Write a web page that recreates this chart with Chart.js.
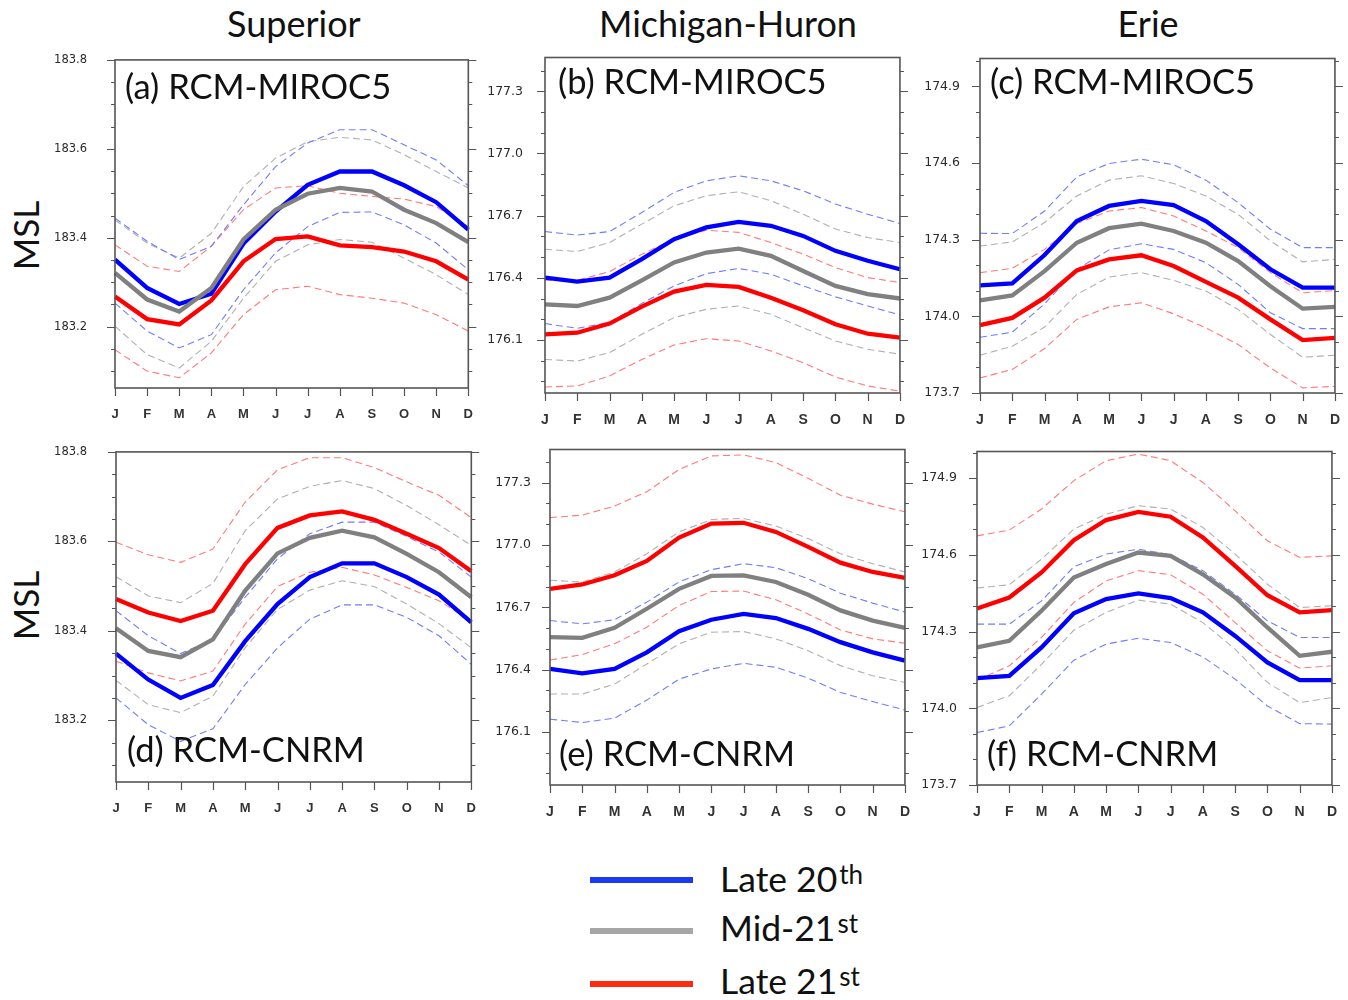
<!DOCTYPE html>
<html><head><meta charset="utf-8">
<script src="https://cdn.jsdelivr.net/npm/chart.js@4.4.0/dist/chart.umd.min.js"></script>
<style>
html,body{margin:0;padding:0;background:#fff;}
body{width:1348px;height:1000px;position:relative;overflow:hidden;font-family:Lato,"Open Sans",sans-serif;}
.cv{position:absolute;}
.txt{position:absolute;white-space:nowrap;color:#111;line-height:1;}
.ttl{font-size:36px;}
.plab{font-size:34.5px;}
.msl{font-size:35px;transform:rotate(-90deg);transform-origin:center center;}
.leg{font-size:35.5px;}
.leg sup{font-size:26px;vertical-align:top;position:relative;top:0px;margin-left:2px;}
.lline{position:absolute;height:6px;width:103px;left:590px;}
</style></head><body>

<div class="txt ttl" id="t1">Superior</div>
<div class="txt ttl" id="t2">Michigan-Huron</div>
<div class="txt ttl" id="t3">Erie</div>
<div class="txt msl" id="m1">MSL</div>
<div class="txt msl" id="m2">MSL</div>

<canvas class="cv" id="ca"></canvas>
<canvas class="cv" id="cb"></canvas>
<canvas class="cv" id="cc"></canvas>
<canvas class="cv" id="cd"></canvas>
<canvas class="cv" id="ce"></canvas>
<canvas class="cv" id="cf"></canvas>

<div class="txt plab" style="left:125px;top:69px;">(a) RCM-MIROC5</div>
<div class="txt plab" style="left:558px;top:64px;">(b) RCM-MIROC5</div>
<div class="txt plab" style="left:990px;top:64px;">(c) RCM-MIROC5</div>
<div class="txt plab" style="left:127px;top:732px;">(d) RCM-CNRM</div>
<div class="txt plab" style="left:559px;top:736px;">(e) RCM-CNRM</div>
<div class="txt plab" style="left:987px;top:736px;">(f) RCM-CNRM</div>

<div class="lline" style="top:877px;background:#1a3cf0;"></div>
<div class="lline" style="top:928px;background:#a6a6a6;"></div>
<div class="lline" style="top:981px;background:#ff2a10;"></div>
<div class="txt leg" style="left:720px;top:861px;">Late 20<sup>th</sup></div>
<div class="txt leg" style="left:720px;top:910px;">Mid-21<sup>st</sup></div>
<div class="txt leg" style="left:720px;top:963px;">Late 21<sup>st</sup></div>

<script>
// ---------- categories & ticks ----------
const months = ['J','F','M','A','M','J','J','A','S','O','N','D'];
const supTicks  = [183.2, 183.4, 183.6, 183.8];
const mhTicks   = [176.1, 176.4, 176.7, 177.0, 177.3];
const erieTicks = [173.7, 174.0, 174.3, 174.6, 174.9];

// ---------- (a) Superior, RCM-MIROC5 ----------
const a_l20    = [183.351,183.287,183.251,183.274,183.387,183.459,183.519,183.549,183.549,183.518,183.480,183.418];
const a_l20_hi = [183.444,183.392,183.351,183.381,183.474,183.560,183.613,183.643,183.643,183.609,183.575,183.517];
const a_l20_lo = [183.253,183.190,183.152,183.182,183.283,183.366,183.425,183.457,183.458,183.429,183.388,183.328];
const a_m21    = [183.321,183.261,183.234,183.287,183.396,183.463,183.499,183.512,183.504,183.463,183.433,183.390];
const a_m21_hi = [183.440,183.388,183.354,183.410,183.515,183.579,183.616,183.626,183.620,183.587,183.549,183.512];
const a_m21_lo = [183.201,183.137,183.107,183.167,183.264,183.347,183.384,183.396,183.390,183.354,183.317,183.272];
const a_l21    = [183.268,183.217,183.205,183.259,183.347,183.397,183.403,183.383,183.379,183.369,183.347,183.306];
const a_l21_hi = [183.384,183.336,183.324,183.381,183.463,183.512,183.517,183.500,183.493,183.487,183.470,183.425];
const a_l21_lo = [183.148,183.100,183.085,183.141,183.227,183.283,183.291,183.272,183.264,183.253,183.227,183.190];

// ---------- (b) Michigan-Huron, RCM-MIROC5 ----------
const b_l20    = [176.401,176.382,176.401,176.490,176.586,176.643,176.670,176.651,176.602,176.530,176.482,176.441];
const b_l20_hi = [176.623,176.606,176.623,176.715,176.812,176.868,176.892,176.868,176.820,176.756,176.707,176.662];
const b_l20_lo = [176.179,176.156,176.184,176.276,176.361,176.420,176.445,176.417,176.361,176.308,176.264,176.221];
const b_m21    = [176.272,176.264,176.304,176.388,176.474,176.522,176.541,176.506,176.433,176.361,176.321,176.300];
const b_m21_hi = [176.538,176.527,176.570,176.659,176.747,176.796,176.815,176.772,176.707,176.635,176.594,176.570];
const b_m21_lo = [176.006,175.998,176.039,176.127,176.208,176.248,176.264,176.224,176.159,176.095,176.055,176.031];
const b_l21    = [176.127,176.135,176.179,176.261,176.333,176.366,176.356,176.304,176.243,176.176,176.130,176.111];
const b_l21_hi = [176.388,176.388,176.430,176.514,176.586,176.630,176.619,176.570,176.514,176.449,176.401,176.377];
const b_l21_lo = [175.873,175.878,175.926,176.006,176.076,176.106,176.095,176.047,175.990,175.921,175.878,175.853];

// ---------- (c) Erie, RCM-MIROC5 ----------
const c_l20    = [174.121,174.129,174.240,174.373,174.432,174.452,174.435,174.373,174.282,174.184,174.112,174.112];
const c_l20_hi = [174.325,174.324,174.412,174.546,174.598,174.615,174.593,174.533,174.445,174.341,174.269,174.269];
const c_l20_lo = [173.918,173.938,174.049,174.184,174.260,174.284,174.262,174.210,174.125,174.014,173.952,173.952];
const c_m21    = [174.062,174.082,174.177,174.288,174.345,174.363,174.334,174.288,174.216,174.118,174.030,174.037];
const c_m21_hi = [174.275,174.291,174.367,174.471,174.533,174.550,174.520,174.471,174.399,174.295,174.213,174.223];
const c_m21_lo = [173.848,173.883,173.958,174.086,174.154,174.171,174.141,174.099,174.027,173.929,173.840,173.848];
const c_l21    = [173.966,173.994,174.073,174.180,174.223,174.239,174.197,174.135,174.073,173.988,173.907,173.916];
const c_l21_hi = [174.171,174.188,174.262,174.363,174.412,174.426,174.393,174.334,174.269,174.171,174.092,174.101];
const c_l21_lo = [173.759,173.792,173.874,173.988,174.037,174.053,174.010,173.955,173.890,173.798,173.720,173.726];

// ---------- (d) Superior, RCM-CNRM ----------
const d_l20    = [183.349,183.291,183.250,183.279,183.377,183.460,183.520,183.551,183.551,183.520,183.481,183.419];
const d_l20_hi = [183.445,183.389,183.349,183.381,183.475,183.561,183.617,183.643,183.643,183.611,183.576,183.520];
const d_l20_lo = [183.250,183.190,183.153,183.181,183.280,183.362,183.426,183.458,183.458,183.430,183.389,183.325];
const d_m21    = [183.406,183.355,183.341,183.381,183.490,183.573,183.608,183.624,183.609,183.572,183.531,183.475];
const d_m21_hi = [183.521,183.478,183.463,183.506,183.624,183.695,183.723,183.736,183.718,183.680,183.637,183.591];
const d_m21_lo = [183.289,183.235,183.217,183.254,183.362,183.448,183.491,183.512,183.499,183.460,183.416,183.362];
const d_l21    = [183.471,183.441,183.422,183.445,183.549,183.630,183.658,183.667,183.648,183.617,183.585,183.533];
const d_l21_hi = [183.598,183.570,183.553,183.583,183.688,183.760,183.787,183.787,183.765,183.733,183.703,183.653];
const d_l21_lo = [183.332,183.306,183.288,183.310,183.415,183.499,183.531,183.542,183.525,183.497,183.467,183.422];

// ---------- (e) Michigan-Huron, RCM-CNRM ----------
const e_l20    = [176.403,176.382,176.403,176.483,176.585,176.640,176.668,176.648,176.596,176.532,176.483,176.443];
const e_l20_hi = [176.636,176.620,176.640,176.725,176.822,176.881,176.910,176.891,176.838,176.768,176.720,176.677];
const e_l20_lo = [176.161,176.145,176.166,176.253,176.354,176.403,176.430,176.411,176.359,176.290,176.246,176.205];
const e_m21    = [176.556,176.553,176.601,176.693,176.789,176.851,176.854,176.822,176.760,176.685,176.636,176.601];
const e_m21_hi = [176.830,176.822,176.870,176.958,177.063,177.123,177.128,177.091,177.031,176.958,176.910,176.870];
const e_m21_lo = [176.282,176.282,176.330,176.427,176.524,176.580,176.583,176.548,176.491,176.419,176.370,176.338];
const e_l21    = [176.789,176.810,176.854,176.923,177.036,177.103,177.107,177.063,176.991,176.915,176.870,176.842];
const e_l21_hi = [177.132,177.144,177.187,177.257,177.364,177.429,177.434,177.397,177.321,177.240,177.197,177.160];
const e_l21_lo = [176.446,176.472,176.524,176.604,176.709,176.776,176.778,176.736,176.668,176.591,176.548,176.527];

// ---------- (f) Erie, RCM-CNRM ----------
const f_l20    = [174.118,174.127,174.238,174.371,174.427,174.449,174.431,174.375,174.283,174.179,174.110,174.110];
const f_l20_hi = [174.329,174.329,174.420,174.553,174.603,174.622,174.600,174.538,174.446,174.342,174.277,174.277];
const f_l20_lo = [173.905,173.931,174.055,174.188,174.251,174.274,174.257,174.201,174.114,174.009,173.940,173.938];
const f_m21    = [174.238,174.264,174.381,174.511,174.564,174.609,174.596,174.524,174.433,174.316,174.205,174.221];
const f_m21_hi = [174.470,174.483,174.583,174.700,174.759,174.792,174.779,174.707,174.603,174.485,174.394,174.401];
const f_m21_lo = [174.003,174.049,174.172,174.305,174.375,174.423,174.407,174.335,174.231,174.101,174.022,174.042];
const f_l21    = [174.390,174.433,174.531,174.657,174.736,174.768,174.749,174.668,174.557,174.442,174.375,174.384];
const f_l21_hi = [174.674,174.697,174.779,174.890,174.968,174.994,174.968,174.883,174.772,174.655,174.590,174.596];
const f_l21_lo = [174.110,174.166,174.277,174.414,174.498,174.538,174.522,174.446,174.335,174.225,174.157,174.166];

// ---------- layout ----------
const AXW = 80, PADT = 12, PADR = 20, XAH = 40;
const panels = [
  {cv:'ca', box:[115,60,468,388], min:183.062, max:183.8,   major:supTicks,  minor:0.05, lab:28, fs:11.5, xf:13, xp:19,
   s:[a_l20,a_l20_hi,a_l20_lo,a_m21,a_m21_hi,a_m21_lo,a_l21,a_l21_hi,a_l21_lo]},
  {cv:'cb', box:[545,57,900,392], min:175.844, max:177.463, major:mhTicks,   minor:0.1,  lab:22, fs:12.5, xf:14, xp:19,
   s:[b_l20,b_l20_hi,b_l20_lo,b_m21,b_m21_hi,b_m21_lo,b_l21,b_l21_hi,b_l21_lo]},
  {cv:'cc', box:[980,58,1335,392], min:173.7, max:175.009,  major:erieTicks, minor:0.1,  lab:20, fs:12.5, xf:14, xp:19,
   s:[c_l20,c_l20_hi,c_l20_lo,c_m21,c_m21_hi,c_m21_lo,c_l21,c_l21_hi,c_l21_lo]},
  {cv:'cd', box:[116,452,471,782], min:183.062, max:183.8,  major:supTicks,  minor:0.05, lab:29, fs:11.5, xf:13, xp:19,
   s:[d_l20,d_l20_hi,d_l20_lo,d_m21,d_m21_hi,d_m21_lo,d_l21,d_l21_hi,d_l21_lo]},
  {cv:'ce', box:[550,449,905,784], min:175.844, max:177.46, major:mhTicks,   minor:0.1,  lab:19, fs:12.5, xf:14, xp:19,
   s:[e_l20,e_l20_hi,e_l20_lo,e_m21,e_m21_hi,e_m21_lo,e_l21,e_l21_hi,e_l21_lo]},
  {cv:'cf', box:[977,451,1332,784], min:173.7, max:175.004, major:erieTicks, minor:0.1,  lab:20, fs:12.5, xf:14, xp:19,
   s:[f_l20,f_l20_hi,f_l20_lo,f_m21,f_m21_hi,f_m21_lo,f_l21,f_l21_hi,f_l21_lo]}
];

const solidCol = ['#0000ff','#808080','#ff0000'];
const dashCol  = ['#6f7cff','#b0b0b0','#ff7a7a'];
const labels = ['Late 20th','Late 20th upper','Late 20th lower','Mid-21st','Mid-21st upper','Mid-21st lower','Late 21st','Late 21st upper','Late 21st lower'];

function framePlugin(p){
  const minors = [];
  const n0 = Math.ceil(p.min / p.minor - 1e-6), n1 = Math.floor(p.max / p.minor + 1e-6);
  for (let k = n0; k <= n1; k++) {
    const v = +(k * p.minor).toFixed(3);
    if (!p.major.some(m => Math.abs(m - v) < 1e-6)) minors.push(v);
  }
  return {
    id:'frame',
    afterDatasetsDraw(chart){
      const {ctx, chartArea:{left,right,top,bottom}} = chart;
      const ys = chart.scales.y, xs = chart.scales.x;
      ctx.save();
      ctx.strokeStyle = '#555';
      ctx.lineWidth = 1.2;
      ctx.beginPath();
      for (const v of p.major) {
        const py = Math.round(ys.getPixelForValue(v)) + 0.5;
        ctx.moveTo(left-8, py); ctx.lineTo(left, py);
        ctx.moveTo(right, py); ctx.lineTo(right+8, py);
      }
      for (const v of minors) {
        const py = Math.round(ys.getPixelForValue(v)) + 0.5;
        ctx.moveTo(left-4, py); ctx.lineTo(left, py);
        ctx.moveTo(right, py); ctx.lineTo(right+4, py);
      }
      for (let i = 0; i < months.length; i++) {
        const px = Math.round(xs.getPixelForValue(i)) + 0.5;
        ctx.moveTo(px, bottom); ctx.lineTo(px, bottom+8);
      }
      ctx.stroke();
      ctx.lineWidth = 1.6;
      ctx.strokeRect(left, top, right-left, bottom-top);
      ctx.restore();
    }
  };
}

function buildChart(p, cv){
  const datasets = p.s.map((arr,i) => {
    const g = Math.floor(i/3), solid = (i%3===0);
    return {
      label: labels[i], data: arr,
      borderColor: solid ? solidCol[g] : dashCol[g],
      borderWidth: solid ? 4.3 : 1.1,
      borderDash: solid ? [] : [7,4],
      pointRadius: 0, tension: 0, fill: false,
      order: solid ? (2-g) : 10 + i
    };
  });
  return new Chart(cv, {
    type:'line',
    data:{labels:months, datasets},
    plugins:[framePlugin(p)],
    options:{
      responsive:false, animation:false, devicePixelRatio:1,
      layout:{padding:{top:PADT, right:PADR, left:0, bottom:0}},
      plugins:{legend:{display:false}, tooltip:{enabled:false}},
      scales:{
        x:{type:'category', offset:false,
           grid:{display:false, drawTicks:false}, border:{display:false},
           ticks:{autoSkip:false, maxRotation:0, padding:p.xp, color:'#333',
                  font:{family:'"Liberation Sans", Arial, sans-serif', size:p.xf, weight:'bold'}},
           afterFit(s){ s.height = XAH; }},
        y:{type:'linear', min:p.min, max:p.max,
           grid:{display:false, drawTicks:false}, border:{display:false},
           afterBuildTicks(s){ s.ticks = p.major.map(v => ({value:v})); },
           ticks:{padding:p.lab, color:'#2a2a2a', autoSkip:false,
                  font:{family:'"DejaVu Sans", sans-serif', size:p.fs},
                  callback:(v)=>Number(v).toFixed(1)},
           afterFit(s){ s.width = AXW; }}
      }
    }
  });
}

function setCanvas(cv, left, top, w, h){
  cv.style.left = left+'px'; cv.style.top = top+'px';
  cv.style.width = w+'px'; cv.style.height = h+'px';
  cv.width = w; cv.height = h;
}

for (const p of panels) {
  const [L,T,R,B] = p.box;
  const cv = document.getElementById(p.cv);
  let w = AXW + (R-L) + PADR, h = PADT + (B-T) + XAH;
  setCanvas(cv, L-AXW, T-PADT, w, h);
  let chart = buildChart(p, cv);
  for (let pass = 0; pass < 3; pass++) {
    const ca = chart.chartArea;
    const mL = ca.left, mT = ca.top, mR = w - ca.right, mB = h - ca.bottom;
    if (Math.abs(ca.right-ca.left-(R-L)) < 0.5 && Math.abs(ca.bottom-ca.top-(B-T)) < 0.5) break;
    chart.destroy();
    w = Math.round(mL + (R-L) + mR); h = Math.round(mT + (B-T) + mB);
    setCanvas(cv, Math.round(L - mL), Math.round(T - mT), w, h);
    chart = buildChart(p, cv);
  }
}

// ---------- place titles ----------
function centerAt(id, cx, baseline){
  const el = document.getElementById(id);
  const fs = parseFloat(getComputedStyle(el).fontSize);
  el.style.left = (cx - el.offsetWidth/2) + 'px';
  el.style.top = (baseline - 0.887*fs) + 'px';
}
centerAt('t1', 294, 37);
centerAt('t2', 728, 37);
centerAt('t3', 1148, 37);
function mslAt(id, cx, cy){
  const el = document.getElementById(id);
  el.style.left = (cx - el.offsetWidth/2) + 'px';
  el.style.top = (cy - el.offsetHeight/2) + 'px';
}
mslAt('m1', 25, 235);
mslAt('m2', 25, 605);
</script>
</body></html>
